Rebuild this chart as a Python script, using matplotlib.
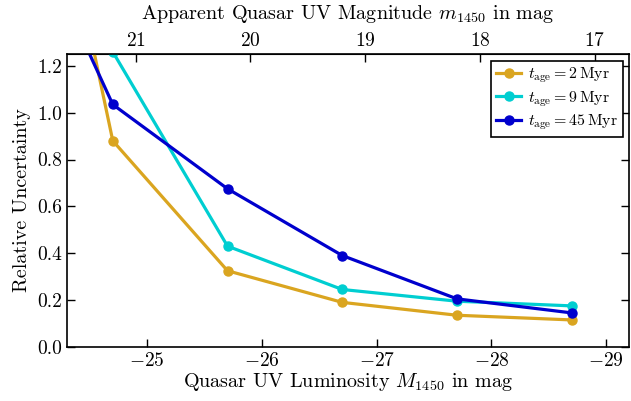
import matplotlib
matplotlib.use("Agg")
import matplotlib.pyplot as plt

plt.rcParams['font.family'] = 'serif'
plt.rcParams['font.serif'] = ['cmr10']
plt.rcParams['mathtext.fontset'] = 'cm'
plt.rcParams['axes.formatter.use_mathtext'] = True
plt.rcParams['axes.unicode_minus'] = True

# absolute magnitude M1450 of each sample
M1450 = [-23.7, -24.7, -25.7, -26.7, -27.7, -28.7]
unc_2myr = [3.2, 0.88, 0.325, 0.19, 0.135, 0.115]
unc_9myr = [2.6, 1.26, 0.43, 0.245, 0.195, 0.175]
unc_45myr = [2.1, 1.035, 0.675, 0.39, 0.205, 0.145]
dist_mod = 45.9
top_ticks = [21, 20, 19, 18, 17]

fig = plt.figure(figsize=(6.31, 4.01), dpi=100)
ax = fig.add_axes([0.106, 0.135, 0.891, 0.730])

ax.plot(M1450, unc_2myr, '-o', color='goldenrod', lw=2.3, ms=6.5, label=r'$t_{\rm age} = 2\,{\rm Myr}$')
ax.plot(M1450, unc_9myr, '-o', color='darkturquoise', lw=2.3, ms=6.5, label=r'$t_{\rm age} = 9\,{\rm Myr}$')
ax.plot(M1450, unc_45myr, '-o', color='mediumblue', lw=2.3, ms=6.5, label=r'$t_{\rm age} = 45\,{\rm Myr}$')

ax.set_xlim(-24.3, -29.2)
ax.set_ylim(0, 1.25)
ax.set_xticks([-25, -26, -27, -28, -29])
ax.set_yticks([0.0, 0.2, 0.4, 0.6, 0.8, 1.0, 1.2])
ax.set_yticklabels(['%.1f' % v for v in [0.0, 0.2, 0.4, 0.6, 0.8, 1.0, 1.2]])
ax.tick_params(direction='in', length=6, width=1, labelsize=14, right=True, top=False)
ax.set_xlabel(r'Quasar UV Luminosity $M_{1450}$ in mag', fontsize=14.5, labelpad=1)
ax.set_ylabel('Relative Uncertainty', fontsize=14.5)
for s in ax.spines.values():
    s.set_linewidth(1.2)

sec = ax.secondary_xaxis('top', functions=(lambda x: x + dist_mod, lambda m: m - dist_mod))
sec.set_xticks(top_ticks)
sec.tick_params(direction='in', length=6, width=1, labelsize=14, pad=3)
sec.set_xlabel(r'Apparent Quasar UV Magnitude $m_{1450}$ in mag', fontsize=14.5, labelpad=9)

leg = ax.legend(loc='upper right', fontsize=11.5, fancybox=False, framealpha=1,
                edgecolor='black', handlelength=1.6, handletextpad=0.4,
                borderpad=0.3, labelspacing=0.25, borderaxespad=0.4)
leg.get_frame().set_linewidth(1.2)

fig.savefig('out.png', dpi=100)
